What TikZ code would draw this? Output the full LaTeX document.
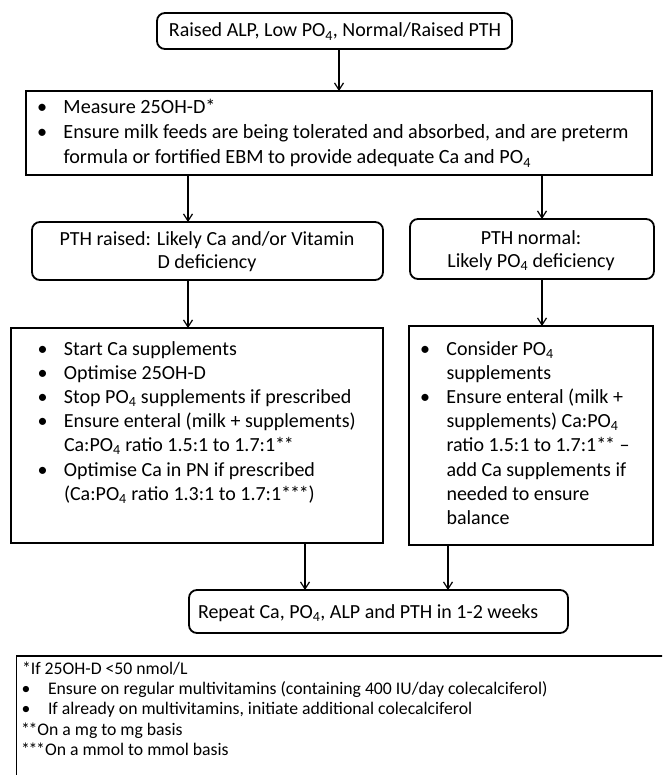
\documentclass[tikz,border=0pt]{standalone}
\usepackage{fontspec}
\setmainfont{Carlito}
\usetikzlibrary{arrows.meta}
\newcommand\POf{PO\textsubscript{4}}
\newcommand\stA{*\kern-1.2pt*}
\newcommand\stB{*\kern-1.2pt*\kern-1.2pt*}
\newcommand\mainsz{\fontsize{20}{24.2}\selectfont}
\newcommand\boxtwosz{\fontsize{20.2}{25}\selectfont}
\newcommand\midsz{\fontsize{20}{23}\selectfont}
\newcommand\notesz{\fontsize{17.7}{20.2}\selectfont}
\newcommand\bulA{\makebox[26.5pt][l]{•}}
\newcommand\indA{\hspace*{26.5pt}}
\tikzset{
  rbox/.style={draw, line width=1.8pt, rounded corners=8pt, inner sep=0pt, outer sep=0pt, anchor=north west},
  sbox/.style={draw, line width=1.8pt, inner sep=0pt, outer sep=0pt, anchor=north west},
  arr/.style={line width=1.2pt, -{Straight Barb[length=7pt,width=9pt]}},
  txt/.style={inner sep=0pt, outer sep=0pt, anchor=base west, font=\mainsz},
  ctxt/.style={inner sep=0pt, outer sep=0pt, anchor=base, font=\midsz},
}
\begin{document}
\begin{tikzpicture}[x=1pt,y=-1pt]
\clip (0,0) rectangle (662,775);
\fill[white] (0,0) rectangle (662,775);
% boxes
\node[rbox, minimum width=355pt, minimum height=36pt] (top) at (157,13) {};
\node[sbox, minimum width=626pt, minimum height=84pt] (box2) at (26,91) {};
\node[rbox, minimum width=351pt, minimum height=58pt] (midL) at (32,222) {};
\node[rbox, minimum width=244pt, minimum height=60pt] (midR) at (410,219) {};
\node[sbox, minimum width=372pt, minimum height=215pt] (lowL) at (11,328) {};
\node[sbox, minimum width=244pt, minimum height=219pt] (lowR) at (409,326) {};
\node[rbox, minimum width=379pt, minimum height=43pt] (rep) at (189,590) {};
\node[sbox, minimum width=700pt, minimum height=200pt] (notes) at (16.5,656) {};
% texts
\node[ctxt, font=\mainsz] (ttop) at (335,37) {Raised ALP, Low \POf, Normal/Raised PTH};
\node[txt, font=\boxtwosz] (tbox2) at (37,114) {\begin{tabular}[t]{@{}l@{}}
\bulA Measure 25OH-D*\\
\bulA Ensure milk feeds are being tolerated and absorbed, and are preterm\\
\indA formula or fortified EBM to provide adequate Ca and \POf
\end{tabular}};
\node[ctxt] (tmidL) at (207,245.5) {\begin{tabular}[t]{@{}c@{}}
PTH raised: Likely Ca and/or Vitamin\\
D deficiency
\end{tabular}};
\node[ctxt] (tmidR) at (531,244.5) {\begin{tabular}[t]{@{}c@{}}
PTH normal:\\
Likely \POf{} deficiency
\end{tabular}};
\node[txt] (tlowL) at (37.5,355) {\begin{tabular}[t]{@{}l@{}}
\bulA Start Ca supplements\\
\bulA Optimise 25OH-D\\
\bulA Stop \POf{} supplements if prescribed\\
\bulA Ensure enteral (milk + supplements)\\
\indA Ca:\POf{} ratio 1.5:1 to 1.7:1\stA\\
\bulA Optimise Ca in PN if prescribed\\
\indA (Ca:\POf{} ratio 1.3:1 to 1.7:1\stB)
\end{tabular}};
\node[txt] (tlowR) at (420,355) {\begin{tabular}[t]{@{}l@{}}
\bulA Consider \POf\\
\indA supplements\\
\bulA Ensure enteral (milk +\\
\indA supplements) Ca:\POf\\
\indA ratio 1.5:1 to 1.7:1\stA{} --\\
\indA add Ca supplements if\\
\indA needed to ensure\\
\indA balance
\end{tabular}};
\node[txt] (trep) at (198,618) {Repeat Ca, \POf, ALP and PTH in 1-2 weeks};
\node[txt, font=\notesz] (tnotes) at (21,674.5) {\begin{tabular}[t]{@{}l@{}}
\hspace*{1pt}*If 25OH-D <50 nmol/L\\
\hspace*{27pt}Ensure on regular multivitamins (containing 400 IU/day colecalciferol)\\
\hspace*{27pt}If already on multivitamins, initiate additional colecalciferol\\
\stA On a mg to mg basis\\
\stB On a mmol to mmol basis
\end{tabular}};
\node[txt, font=\notesz] (nb1) at (21.5,694.7) {•};
\node[txt, font=\notesz] (nb2) at (21.5,714.9) {•};
% arrow columns
\coordinate (cT) at (339,0);
\coordinate (cL) at (188,0);
\coordinate (cR) at (542,0);
\coordinate (dL) at (305,0);
\coordinate (dR) at (448,0);
% connectors
\draw[arr] (top.south -| cT) -- (box2.north -| cT);
\draw[arr] (box2.south -| cL) -- (midL.north -| cL);
\draw[arr] (box2.south -| cR) -- (midR.north -| cR);
\draw[arr] (midL.south -| cL) -- (lowL.north -| cL);
\draw[arr] (midR.south -| cR) -- (lowR.north -| cR);
\draw[arr] (lowL.south -| dL) -- (rep.north -| dL);
\draw[arr] (lowR.south -| dR) -- (rep.north -| dR);
\end{tikzpicture}
\end{document}
